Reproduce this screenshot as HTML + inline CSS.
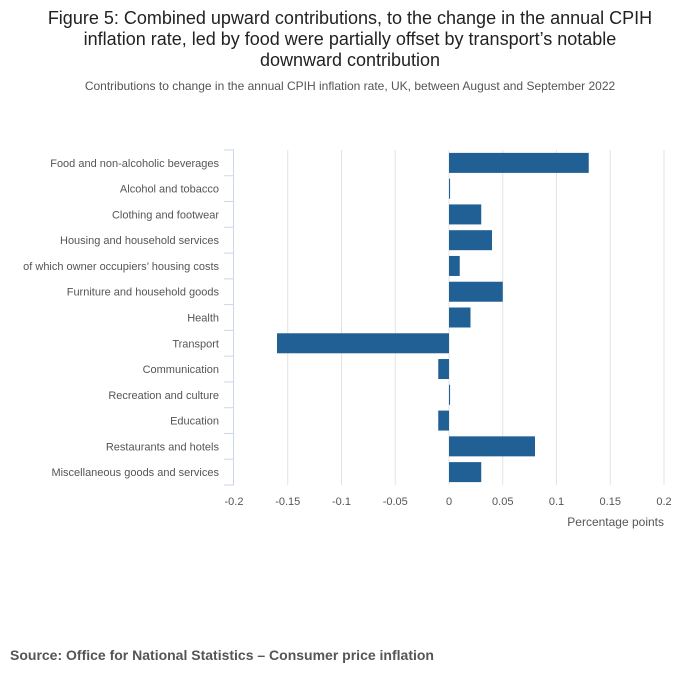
<!DOCTYPE html>
<html><head><meta charset="utf-8"><style>
body{margin:0;background:#fff;width:700px;height:682px;overflow:hidden;font-family:"Liberation Sans",sans-serif}
</style></head><body>
<svg width="700" height="682" id="svg" font-family="Liberation Sans, sans-serif">
<text x="350" y="24" text-anchor="middle" font-size="18" fill="#222">Figure 5: Combined upward contributions, to the change in the annual CPIH</text>
<text x="350" y="45" text-anchor="middle" font-size="18" fill="#222">inflation rate, led by food were partially offset by transport’s notable</text>
<text x="350" y="66" text-anchor="middle" font-size="18" fill="#222">downward contribution</text>
<text x="350" y="90" text-anchor="middle" font-size="12" fill="#555">Contributions to change in the annual CPIH inflation rate, UK, between August and September 2022</text>
<g id="plot"></g>
<text x="664" y="526" text-anchor="end" font-size="12" fill="#555">Percentage points</text>
<text x="10" y="660" font-size="14" font-weight="bold" fill="#555">Source: Office for National Statistics – Consumer price inflation</text>
</svg>
<script>
const categories=["Food and non-alcoholic beverages","Alcohol and tobacco","Clothing and footwear","Housing and household services","of which owner occupiers’ housing costs","Furniture and household goods","Health","Transport","Communication","Recreation and culture","Education","Restaurants and hotels","Miscellaneous goods and services"];
const values=[0.13,0.001,0.03,0.04,0.01,0.05,0.02,-0.16,-0.01,0.001,-0.01,0.08,0.03];
const ticks=[-0.2,-0.15,-0.1,-0.05,0,0.05,0.1,0.15,0.2];
const tickLabels=["-0.2","-0.15","-0.1","-0.05","0","0.05","0.1","0.15","0.2"];
const NS="http://www.w3.org/2000/svg",g=document.getElementById('plot');
const x0=234,x1=664,yTop=150,yBot=485;
const xs=v=>x0+(v+0.2)/0.4*(x1-x0);
const band=(yBot-yTop)/categories.length;
function mk(t,a){const e=document.createElementNS(NS,t);for(const k in a)e.setAttribute(k,a[k]);g.appendChild(e);return e;}
ticks.forEach((t,i)=>{
 if(i>0){const l=mk('line',{x1:xs(t),x2:xs(t),y1:yTop,y2:yBot,stroke:'#e3e3e3'});
 
 }
 const tx=mk('text',{x:xs(t),y:505,'text-anchor':'middle','font-size':11,fill:'#555'});tx.textContent=tickLabels[i];
 
 
});
const ax=mk('line',{x1:x0-0.5,x2:x0-0.5,y1:yTop,y2:yBot,stroke:'#ccd6eb'});


for(let i=0;i<=categories.length;i++){const y=yTop+i*band;
 const tk=mk('line',{x1:x0-10,x2:x0,y1:y,y2:y,stroke:'#ccd6eb'});
 
 }
categories.forEach((c,i)=>{
 const yc=yTop+(i+0.5)*band;
 const t=mk('text',{x:219,y:yc+4,'text-anchor':'end','font-size':11,fill:'#555'});t.textContent=c;
 
 
 const v=values[i],a=xs(Math.min(0,v)),b=xs(Math.max(0,v));
 const r=mk('rect',{x:a,y:yc-10,width:Math.max(1,b-a),height:20,fill:'#206095'});
 
 
});
</script>
</body></html>
